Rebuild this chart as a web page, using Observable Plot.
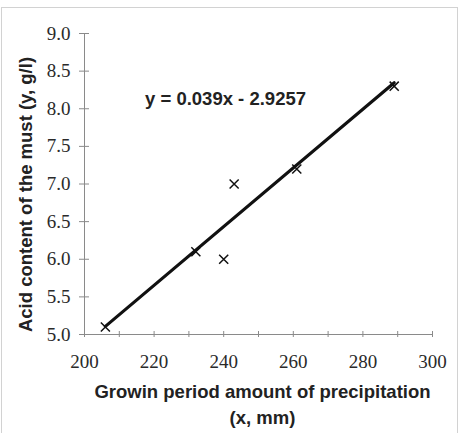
<!DOCTYPE html>
<html>
<head>
<meta charset="utf-8">
<script src="https://cdn.jsdelivr.net/npm/d3@7"></script>
<script src="https://cdn.jsdelivr.net/npm/@observablehq/plot@0.6"></script>
<style>
  body { margin: 0; background: #fff; }
  #wrap { position: relative; width: 461px; height: 433px; overflow: hidden; }
  #border { position: absolute; left: 1px; top: 7px; width: 455px; height: 440px;
            border: 1px solid #d2d2d2; pointer-events: none; }
  .tick-label, .tick-label text { font-family: "Liberation Serif", "Times New Roman", "DejaVu Serif", serif !important; }
  .title-label, .title-label text { font-family: "Liberation Sans", Arial, sans-serif !important; }
</style>
</head>
<body>
<div id="wrap"><div id="chart"></div><div id="border"></div></div>
<script>
// Growing-period precipitation (mm) and acid content of the must (g/l)
const precipitation = [206, 232, 240, 243, 261, 289];
const acidity = [5.1, 6.1, 6.0, 7.0, 7.2, 8.3];

// Fitted trend line coefficients
const slope = 0.039;
const intercept = -2.9257;

// Axis ticks
const xLabelTicks = [200, 220, 240, 260, 280, 300];
const xMarkTicks = [200, 210, 220, 230, 240, 250, 260, 270, 280, 290, 300];
const yTicks = [5.0, 5.5, 6.0, 6.5, 7.0, 7.5, 8.0, 8.5, 9.0];

const xTitle = "Growin period amount of precipitation\n(x, mm)";
const yTitle = "Acid content of the must (y, g/l)";

const points = precipitation.map((x, i) => ({x, y: acidity[i]}));
const xMin = d3.min(precipitation), xMax = d3.max(precipitation);
const trend = [xMin, xMax].map(x => ({x, y: slope * x + intercept}));
const equation = `y = ${slope}x ${intercept < 0 ? "-" : "+"} ${Math.abs(intercept)}`;

const axisGray = "#8a8a8a";
const labelInk = "#2a2a2a";
const serif = "Liberation Serif, Times New Roman, DejaVu Serif, serif";
const sans = "Liberation Sans, Arial, sans-serif";

const chart = Plot.plot({
  width: 461,
  height: 433,
  marginLeft: 84,
  marginRight: 29,
  marginTop: 33,
  marginBottom: 99,
  style: {background: "transparent", overflow: "visible"},
  x: {domain: [200, 300]},
  y: {domain: [5, 9]},
  marks: [
    // axis lines
    Plot.ruleX([200], {y1: 5, y2: 9, stroke: axisGray}),
    Plot.ruleY([5], {x1: 200, x2: 300, stroke: axisGray}),
    // crossing tick marks
    Plot.axisY(yTicks, {tickSize: 10, dx: 5, stroke: axisGray, fill: "none", label: null}),
    Plot.axisX(xMarkTicks, {tickSize: 6, dy: -3, stroke: axisGray, fill: "none", label: null}),
    // tick labels
    Plot.text(yTicks, {y: d => d, text: d3.format(".1f"), frameAnchor: "left", textAnchor: "end",
      dx: -14, fontSize: 19, fontFamily: serif, fill: labelInk, className: "tick-label"}),
    Plot.text(xLabelTicks, {x: d => d, text: d3.format("d"), frameAnchor: "bottom", dy: 33,
      fontSize: 19, fontFamily: serif, fill: labelInk, className: "tick-label"}),
    // trend line and observations
    Plot.line(trend, {x: "x", y: "y", stroke: "#111", strokeWidth: 3.2}),
    Plot.dot(points, {x: "x", y: "y", symbol: "times", r: 4.2, stroke: "#111", strokeWidth: 1.5}),
    // equation label
    Plot.text([equation], {frameAnchor: "top-left", dx: 141, dy: 58, textAnchor: "middle",
      fontSize: 18.5, fontWeight: "bold", fontFamily: sans, fill: "#222", className: "title-label"}),
    // axis titles
    Plot.text([xTitle], {frameAnchor: "bottom", lineAnchor: "top", dx: 4, dy: 45,
      lineHeight: 1.42, fontSize: 18.5, fontWeight: "bold", fontFamily: sans, fill: "#222",
      className: "title-label"}),
    Plot.text([yTitle], {frameAnchor: "left", rotate: -90, textAnchor: "middle", dx: -58, dy: 10.5,
      fontSize: 18.5, fontWeight: "bold", fontFamily: sans, fill: "#222", className: "title-label"})
  ]
});
document.getElementById("chart").append(chart);
</script>
</body>
</html>
